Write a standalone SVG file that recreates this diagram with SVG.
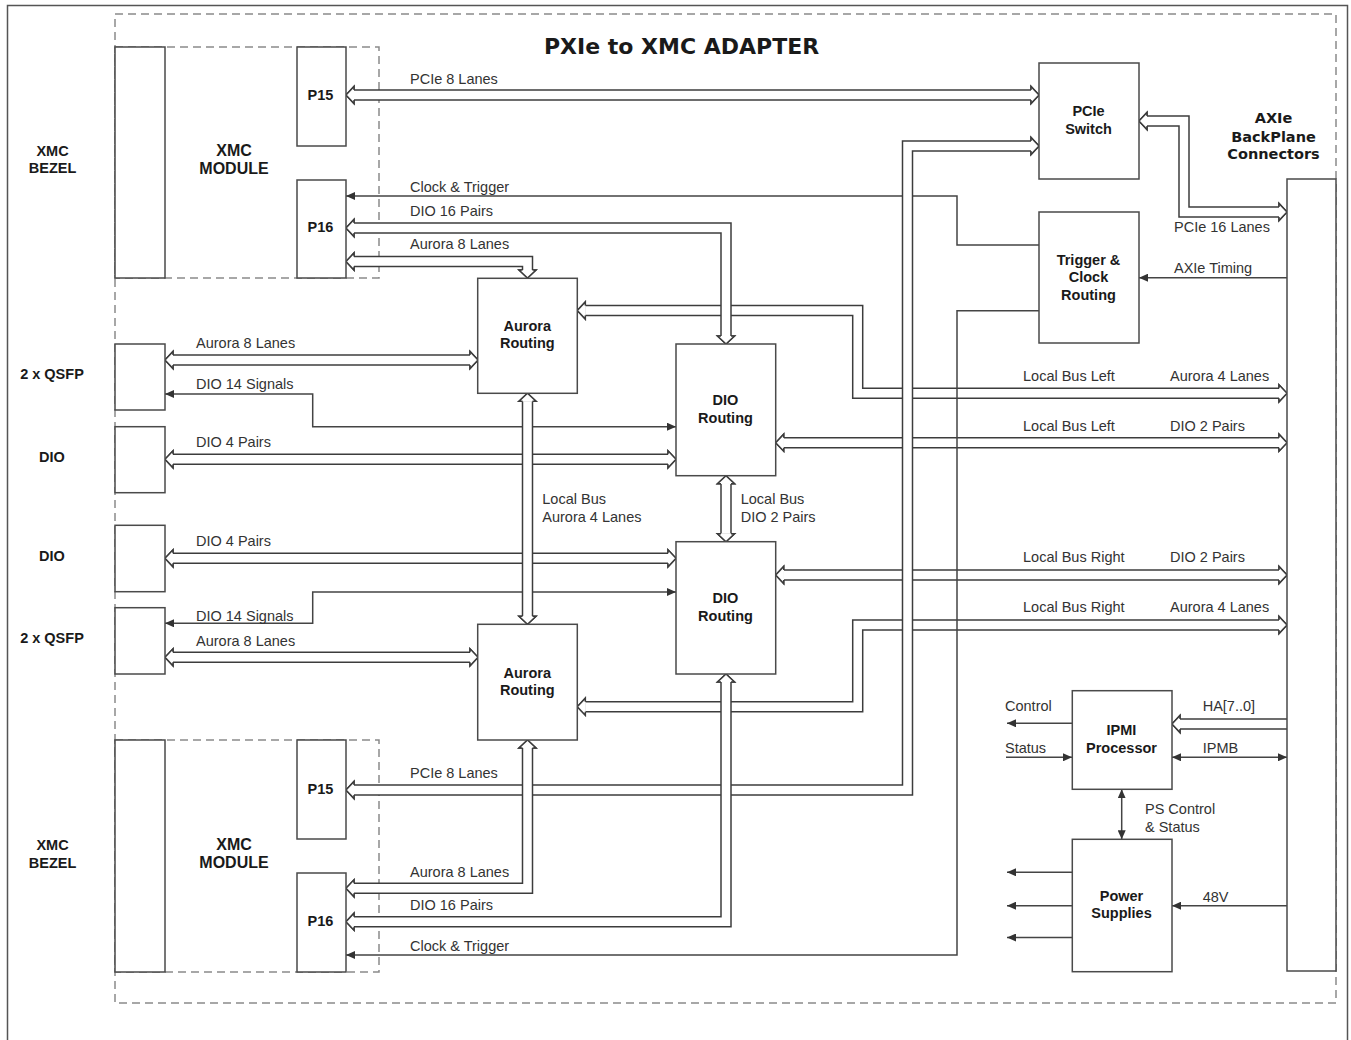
<svg xmlns="http://www.w3.org/2000/svg" width="1351" height="1040" viewBox="0 0 1351 1040">
<style>
.box{fill:#fff;stroke:#4a4a4a;stroke-width:1.5}
.dash{fill:none;stroke:#8a8a8a;stroke-width:1.5;stroke-dasharray:8 5}
.bo{fill:none;stroke:#3c3c3c;stroke-width:11.5;stroke-linejoin:miter}
.bi{fill:none;stroke:#fff;stroke-width:8.5;stroke-linejoin:miter}
.m2{marker-start:url(#hh);marker-end:url(#hh)}
.me{marker-end:url(#hh)}
.ln{fill:none;stroke:#444;stroke-width:1.5}
.s2{marker-start:url(#sa);marker-end:url(#sa)}
.se{marker-end:url(#sa)}
text{font-family:"Liberation Sans",Arial,sans-serif;font-size:14.5px;fill:#333}
.b{font-weight:bold;fill:#1a1a1a}
.c{text-anchor:middle}
.big{font-size:16px}
.dv{font-family:"DejaVu Sans",Verdana,sans-serif;font-weight:bold;fill:#1a1a1a}
</style>
<defs>
<marker id="hh" markerUnits="userSpaceOnUse" viewBox="-2 -10 12 20" refX="0" refY="0" markerWidth="12" markerHeight="20" orient="auto-start-reverse" overflow="visible"><path d="M0,-5 L0,-8.5 L8,0 L0,8.5 L0,5" fill="#fff" stroke="#3c3c3c" stroke-width="1.5"/></marker>
<marker id="sa" markerUnits="userSpaceOnUse" viewBox="0 -4 9 8" refX="9" refY="0" markerWidth="9" markerHeight="8" orient="auto-start-reverse"><path d="M0,-4 L9,0 L0,4 z" fill="#333"/></marker>
<path id="lbla" d="M585.3,310.5 H857.7 V393.3 H1279"/>
<path id="lbld" d="M783.7,442.7 H1279"/>
<path id="lbrd" d="M783.7,575 H1279"/>
<path id="lbra" d="M1279,625 H857.7 V706.7 H585.3"/>
<path id="pcie1" d="M354,95 H1031"/>
<path id="pcie16" d="M1147,121 H1184 V212 H1279"/>
<path id="pcie2" d="M354,790 H907.5 V146 H1031"/>
<path id="dio16a" d="M354,228 H726 V336"/>
<path id="aur8a" d="M354,261.5 H527.5 V270"/>
<path id="aq1" d="M173,360 H470"/>
<path id="dp1" d="M173,459.3 H668"/>
<path id="dp2" d="M173,558.3 H668"/>
<path id="aq2" d="M173,657.3 H470"/>
<path id="lbav" d="M527.5,401.3 V616.3"/>
<path id="lbdv" d="M726,483.7 V533.7"/>
<path id="aur8b" d="M527.5,748 V888.3 H354"/>
<path id="dio16b" d="M726,682 V921.7 H354"/>
<path id="ha" d="M1287,724 H1180"/>
</defs>
<rect x="7.5" y="5.5" width="1340" height="1100" fill="#fff" stroke="#555" stroke-width="1.5"/>
<rect class="dash" x="115" y="14" width="1221" height="989"/>
<rect class="dash" x="115" y="47" width="264" height="231"/>
<rect class="dash" x="115" y="740" width="264" height="232"/>
<text class="dv c" x="681.5" y="54" style="font-size:22px">PXIe to XMC ADAPTER</text>

<g id="connectors">
<use href="#lbla" class="bo m2"/><use href="#lbla" class="bi m2"/>
<use href="#lbld" class="bo m2"/><use href="#lbld" class="bi m2"/>
<use href="#lbrd" class="bo m2"/><use href="#lbrd" class="bi m2"/>
<use href="#lbra" class="bo m2"/><use href="#lbra" class="bi m2"/>
<path class="ln se" d="M1039,245 H957 V196 H346"/>
<path class="ln se" d="M1039,310.7 H957 V955 H346"/>
<use href="#pcie1" class="bo m2"/><use href="#pcie1" class="bi m2"/>
<use href="#pcie16" class="bo m2"/><use href="#pcie16" class="bi m2"/>
<use href="#pcie2" class="bo m2"/><use href="#pcie2" class="bi m2"/>
<use href="#dio16a" class="bo m2"/><use href="#dio16a" class="bi m2"/>
<use href="#aur8a" class="bo m2"/><use href="#aur8a" class="bi m2"/>
<use href="#aq1" class="bo m2"/><use href="#aq1" class="bi m2"/>
<use href="#dp1" class="bo m2"/><use href="#dp1" class="bi m2"/>
<use href="#dp2" class="bo m2"/><use href="#dp2" class="bi m2"/>
<use href="#aq2" class="bo m2"/><use href="#aq2" class="bi m2"/>
<path class="ln s2" d="M165,394 H312.7 V426.7 H676"/>
<path class="ln s2" d="M165,623.3 H312.7 V592 H676"/>
<use href="#lbav" class="bo m2"/><use href="#lbav" class="bi m2"/>
<use href="#lbdv" class="bo m2"/><use href="#lbdv" class="bi m2"/>
<use href="#aur8b" class="bo m2"/><use href="#aur8b" class="bi m2"/>
<use href="#dio16b" class="bo m2"/><use href="#dio16b" class="bi m2"/>
<use href="#ha" class="bo me"/><use href="#ha" class="bi me"/>
<path class="ln se" d="M1287,277.7 H1139"/>
<path class="ln se" d="M1072,723.3 H1007"/>
<path class="ln se" d="M1006,757.3 H1072"/>
<path class="ln s2" d="M1172,757.3 H1287"/>
<path class="ln s2" d="M1121.7,789.3 V839.3"/>
<path class="ln se" d="M1072,872.3 H1007"/>
<path class="ln se" d="M1072,905.7 H1007"/>
<path class="ln se" d="M1072,937.5 H1007"/>
<path class="ln se" d="M1287,905.7 H1172"/>
<text x="410" y="83.5">PCIe 8 Lanes</text>
<text x="410" y="191.5">Clock &amp; Trigger</text>
<text x="410" y="215.5">DIO 16 Pairs</text>
<text x="410" y="249">Aurora 8 Lanes</text>
<text x="1174" y="232.3">PCIe 16 Lanes</text>
<text x="1174" y="273">AXIe Timing</text>
<text x="196" y="348.3">Aurora 8 Lanes</text>
<text x="196" y="389.3">DIO 14 Signals</text>
<text x="196" y="447">DIO 4 Pairs</text>
<text x="196" y="546">DIO 4 Pairs</text>
<text x="196" y="620.7">DIO 14 Signals</text>
<text x="196" y="645.7">Aurora 8 Lanes</text>
<text x="542.3" y="504.3">Local Bus</text>
<text x="542.3" y="521.7">Aurora 4 Lanes</text>
<text x="740.7" y="504.3">Local Bus</text>
<text x="740.7" y="521.7">DIO 2 Pairs</text>
<text x="1023" y="381">Local Bus Left</text>
<text x="1170" y="381">Aurora 4 Lanes</text>
<text x="1023" y="430.7">Local Bus Left</text>
<text x="1170" y="430.7">DIO 2 Pairs</text>
<text x="1023" y="562.3">Local Bus Right</text>
<text x="1170" y="562.3">DIO 2 Pairs</text>
<text x="1023" y="612.3">Local Bus Right</text>
<text x="1170" y="612.3">Aurora 4 Lanes</text>
<text x="410" y="777.7">PCIe 8 Lanes</text>
<text x="410" y="876.7">Aurora 8 Lanes</text>
<text x="410" y="910">DIO 16 Pairs</text>
<text x="410" y="950.7">Clock &amp; Trigger</text>
<text x="1005" y="711">Control</text>
<text x="1005" y="752.7">Status</text>
<text x="1202.7" y="711">HA[7..0]</text>
<text x="1202.7" y="752.7">IPMB</text>
<text x="1145" y="814">PS Control</text>
<text x="1145" y="831.7">&amp; Status</text>
<text x="1202.7" y="901.7">48V</text>
</g>

<g id="xmc-bezel-top"><rect class="box" x="115" y="47" width="50" height="231"/><text class="b c" x="52.5" y="156">XMC</text><text class="b c" x="52.5" y="173.3">BEZEL</text></g>
<g id="xmc-module-top"><text class="b c big" x="234" y="156">XMC</text><text class="b c big" x="234" y="173.5">MODULE</text></g>
<g id="p15-top"><rect class="box" x="297" y="47" width="49" height="99"/><text class="b c" x="320.5" y="100">P15</text></g>
<g id="p16-top"><rect class="box" x="297" y="180" width="49" height="98"/><text class="b c" x="320.5" y="232.3">P16</text></g>
<g id="qsfp-top"><rect class="box" x="115" y="344" width="50" height="66"/><text class="b c" x="52" y="379">2 x QSFP</text></g>
<g id="dio-top"><rect class="box" x="115" y="426.7" width="50" height="66"/><text class="b c" x="52" y="461.7">DIO</text></g>
<g id="dio-bottom"><rect class="box" x="115" y="525.3" width="50" height="66.4"/><text class="b c" x="52" y="560.7">DIO</text></g>
<g id="qsfp-bottom"><rect class="box" x="115" y="607.7" width="50" height="66.3"/><text class="b c" x="52" y="643.3">2 x QSFP</text></g>
<g id="aurora-routing-1"><rect class="box" x="477.7" y="278.3" width="99.6" height="115"/><text class="b c" x="527.3" y="331">Aurora</text><text class="b c" x="527.3" y="348.3">Routing</text></g>
<g id="dio-routing-1"><rect class="box" x="676" y="344" width="99.7" height="131.7"/><text class="b c" x="725.5" y="405">DIO</text><text class="b c" x="725.5" y="422.5">Routing</text></g>
<g id="dio-routing-2"><rect class="box" x="676" y="541.7" width="99.7" height="132.3"/><text class="b c" x="725.5" y="603.3">DIO</text><text class="b c" x="725.5" y="620.8">Routing</text></g>
<g id="aurora-routing-2"><rect class="box" x="477.7" y="624.3" width="99.6" height="115.7"/><text class="b c" x="527.3" y="677.7">Aurora</text><text class="b c" x="527.3" y="695.2">Routing</text></g>
<g id="pcie-switch"><rect class="box" x="1039" y="63" width="100" height="116"/><text class="b c" x="1088.5" y="116">PCIe</text><text class="b c" x="1088.5" y="134">Switch</text></g>
<g id="trigger-clock-routing"><rect class="box" x="1039" y="212" width="100" height="131"/><text class="b c" x="1088.5" y="265">Trigger &amp;</text><text class="b c" x="1088.5" y="282">Clock</text><text class="b c" x="1088.5" y="299.5">Routing</text></g>
<g id="axie-backplane"><rect class="box" x="1287" y="179" width="49" height="792"/><text class="dv c" x="1273.5" y="123.3">AXIe</text><text class="dv c" x="1273.5" y="141.5">BackPlane</text><text class="dv c" x="1273.5" y="159">Connectors</text></g>
<g id="ipmi-processor"><rect class="box" x="1072.3" y="690.7" width="99.7" height="98.6"/><text class="b c" x="1121.5" y="735">IPMI</text><text class="b c" x="1121.5" y="753.3">Processor</text></g>
<g id="power-supplies"><rect class="box" x="1072.3" y="839.3" width="99.7" height="132.4"/><text class="b c" x="1121.5" y="900.7">Power</text><text class="b c" x="1121.5" y="918.3">Supplies</text></g>
<g id="xmc-bezel-bottom"><rect class="box" x="115" y="740" width="50" height="232"/><text class="b c" x="52.5" y="850">XMC</text><text class="b c" x="52.5" y="867.7">BEZEL</text></g>
<g id="xmc-module-bottom"><text class="b c big" x="234" y="850">XMC</text><text class="b c big" x="234" y="867.7">MODULE</text></g>
<g id="p15-bottom"><rect class="box" x="297" y="740" width="49" height="99"/><text class="b c" x="320.5" y="794">P15</text></g>
<g id="p16-bottom"><rect class="box" x="297" y="873" width="49" height="99"/><text class="b c" x="320.5" y="926">P16</text></g>
</svg>
